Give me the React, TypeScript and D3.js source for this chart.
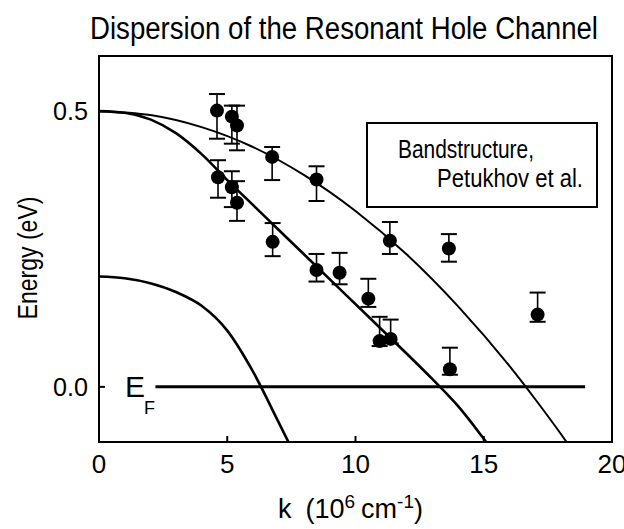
import * as d3 from "d3";
import { useEffect, useRef } from "react";

// measured points: k (10^6 cm^-1), energy (eV), error bar top / bottom
const pointK = [4.6, 5.18, 5.38, 6.75, 8.48, 4.64, 5.18, 5.38, 6.77, 11.34, 13.64, 8.48, 9.38, 10.5, 10.94, 11.37, 13.68, 17.1];
const pointE = [0.501, 0.49, 0.474, 0.417, 0.376, 0.38, 0.362, 0.334, 0.263, 0.265, 0.251, 0.212, 0.207, 0.16, 0.083, 0.087, 0.032, 0.131];
const errTop = [0.531, 0.51, 0.51, 0.435, 0.4, 0.411, 0.391, 0.373, 0.297, 0.299, 0.277, 0.241, 0.243, 0.196, 0.127, 0.122, 0.071, 0.171];
const errBottom = [0.45, 0.441, 0.429, 0.375, 0.337, 0.343, 0.326, 0.301, 0.237, 0.241, 0.227, 0.191, 0.186, 0.145, 0.074, 0.079, 0.022, 0.118];

// bandstructure curves (Petukhov et al.)
const curveAK = [0, 2, 4, 6, 8, 10, 12, 14, 16, 17, 18, 18.6];
const curveAE = [0.5, 0.493, 0.471, 0.435, 0.384, 0.319, 0.24, 0.146, 0.038, -0.022, -0.085, -0.125];
const curveBK = [0, 1, 2, 3, 4, 5, 6, 7, 8, 9, 10, 11, 12, 13, 14, 15, 15.5];
const curveBE = [0.5, 0.497, 0.485, 0.46, 0.422, 0.375, 0.33, 0.285, 0.24, 0.195, 0.15, 0.105, 0.06, 0.014, -0.035, -0.094, -0.125];
const curveCK = [0, 1, 2, 3, 4, 5, 6, 7, 7.6];
const curveCE = [0.2, 0.197, 0.188, 0.172, 0.147, 0.102, 0.028, -0.064, -0.12];

const fermiK = [2.2, 18.95];
const xTicks = [0, 5, 10, 15, 20];
const yTicks = [0.0, 0.5];

const font = "'Liberation Sans', Arial, Helvetica, sans-serif";

export default function App() {
    const svgRef = useRef<SVGSVGElement | null>(null);

    useEffect(() => {
        if (!svgRef.current) return;
        const svg = d3.select(svgRef.current);
        svg.selectAll("*").remove();

        const x = d3.scaleLinear().domain([0, 20]).range([99, 612]);
        const y = d3.scaleLinear().domain([-0.1, 0.6]).range([442, 56]);

        svg.append("defs").append("clipPath").attr("id", "plot")
            .append("rect")
            .attr("x", x(0)).attr("y", y(0.6))
            .attr("width", x(20) - x(0)).attr("height", y(-0.1) - y(0.6));

        // title
        svg.append("text")
            .attr("x", 344).attr("y", 39)
            .attr("text-anchor", "middle")
            .attr("textLength", 508)
            .attr("lengthAdjust", "spacingAndGlyphs")
            .style("font-family", font).style("font-size", "31px")
            .text("Dispersion of the Resonant Hole Channel");

        const plot = svg.append("g").attr("clip-path", "url(#plot)");

        // Fermi level
        plot.append("line")
            .attr("x1", x(fermiK[0])).attr("x2", x(fermiK[1]))
            .attr("y1", y(0)).attr("y2", y(0))
            .attr("stroke", "#000").attr("stroke-width", 3);

        const line = d3.line<[number, number]>()
            .x(d => x(d[0])).y(d => y(d[1]))
            .curve(d3.curveMonotoneX);

        const curves = [
            { k: curveAK, e: curveAE, w: 2 },
            { k: curveBK, e: curveBE, w: 2.6 },
            { k: curveCK, e: curveCE, w: 2.6 },
        ];
        curves.forEach(c => {
            plot.append("path")
                .attr("d", line(c.k.map((k, i) => [k, c.e[i]] as [number, number])))
                .attr("fill", "none").attr("stroke", "#000").attr("stroke-width", c.w);
        });

        // error bars + markers
        const pts = pointK.map((k, i) => ({ k, e: pointE[i], hi: errTop[i], lo: errBottom[i] }));
        const bars = plot.append("g").attr("stroke", "#000").attr("stroke-width", 1.6);
        pts.forEach(p => {
            bars.append("line").attr("x1", x(p.k)).attr("x2", x(p.k)).attr("y1", y(p.hi)).attr("y2", y(p.lo));
            [p.hi, p.lo].forEach(v => {
                bars.append("line")
                    .attr("x1", x(p.k) - 8).attr("x2", x(p.k) + 8)
                    .attr("y1", y(v)).attr("y2", y(v))
                    .attr("stroke-width", 2);
            });
        });
        plot.selectAll(".dot").data(pts).enter().append("circle")
            .attr("class", "dot")
            .attr("cx", d => x(d.k)).attr("cy", d => y(d.e))
            .attr("r", 7).attr("fill", "#000");

        // frame
        svg.append("rect")
            .attr("x", x(0)).attr("y", y(0.6))
            .attr("width", x(20) - x(0)).attr("height", y(-0.1) - y(0.6))
            .attr("fill", "none").attr("stroke", "#000").attr("stroke-width", 2);

        // x axis ticks (inward) and labels
        const xAxis = svg.append("g");
        xTicks.forEach(t => {
            if (t > 0 && t < 20) {
                xAxis.append("line")
                    .attr("x1", x(t)).attr("x2", x(t))
                    .attr("y1", y(-0.1)).attr("y2", y(-0.1) - 6)
                    .attr("stroke", "#000").attr("stroke-width", 2);
            }
            xAxis.append("text")
                .attr("x", x(t)).attr("y", 473)
                .attr("text-anchor", "middle")
                .style("font-family", font).style("font-size", "26px")
                .text(String(t));
        });

        // y axis ticks and labels
        const yAxis = svg.append("g");
        yTicks.forEach(t => {
            yAxis.append("line")
                .attr("x1", x(0)).attr("x2", x(0) + 6)
                .attr("y1", y(t)).attr("y2", y(t))
                .attr("stroke", "#000").attr("stroke-width", 2);
            yAxis.append("text")
                .attr("x", 88).attr("y", y(t) + 9)
                .attr("text-anchor", "end")
                .attr("textLength", 35).attr("lengthAdjust", "spacingAndGlyphs")
                .style("font-family", font).style("font-size", "26px")
                .text(d3.format(".1f")(t));
        });

        // E_F label
        const ef = svg.append("text")
            .attr("x", 125).attr("y", 397)
            .style("font-family", font).style("font-size", "30px");
        ef.append("tspan").text("E");
        ef.append("tspan").attr("dx", -1).attr("dy", 17).style("font-size", "18px").text("F");

        // axis titles
        svg.append("text")
            .attr("transform", "translate(37,258) rotate(-90)")
            .attr("text-anchor", "middle")
            .attr("textLength", 123)
            .attr("lengthAdjust", "spacingAndGlyphs")
            .style("font-family", font).style("font-size", "27px")
            .text("Energy (eV)");

        const xl = svg.append("text")
            .attr("x", 278).attr("y", 518)
            .style("font-family", font).style("font-size", "27px");
        xl.append("tspan").text("k");
        xl.append("tspan").attr("dx", 14).text("(10");
        xl.append("tspan").attr("dy", -10).style("font-size", "19px").text("6");
        xl.append("tspan").attr("dy", 10).attr("dx", 6).text("cm");
        xl.append("tspan").attr("dy", -10).style("font-size", "19px").text("-1");
        xl.append("tspan").attr("dy", 10).text(")");

        // legend box
        svg.append("rect")
            .attr("x", 367).attr("y", 123).attr("width", 230).attr("height", 84)
            .attr("fill", "#fff").attr("stroke", "#000").attr("stroke-width", 2);
        svg.append("text")
            .attr("x", 398).attr("y", 158)
            .attr("textLength", 136).attr("lengthAdjust", "spacingAndGlyphs")
            .style("font-family", font).style("font-size", "25px")
            .text("Bandstructure,");
        svg.append("text")
            .attr("x", 437).attr("y", 187)
            .attr("textLength", 146).attr("lengthAdjust", "spacingAndGlyphs")
            .style("font-family", font).style("font-size", "25px")
            .text("Petukhov et al.");
    }, []);

    return (
        <div style={{ position: "absolute", left: 0, top: 0, background: "#fff" }}>
            <svg ref={svgRef} width={624} height={529} style={{ display: "block" }}></svg>
        </div>
    );
}
